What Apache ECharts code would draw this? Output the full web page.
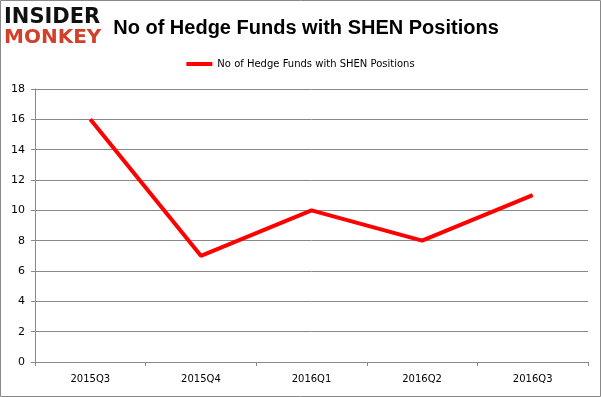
<!DOCTYPE html>
<html>
<head>
<meta charset="utf-8">
<script src="https://cdn.jsdelivr.net/npm/echarts@6/dist/echarts.min.js"></script>
<style>
  html, body { margin: 0; padding: 0; background: #fff; }
  #main { width: 601px; height: 397px; }
</style>
</head>
<body>
<div id="main"></div>
<script>
// data
var quarters = ['2015Q3', '2015Q4', '2016Q1', '2016Q2', '2016Q3'];
var fundCounts = [16, 7, 10, 8, 11];
var seriesName = 'No of Hedge Funds with SHEN Positions';

var myChart = echarts.init(document.getElementById('main'));

myChart.setOption({
  animation: false,
  title: {
    text: 'No of Hedge Funds with SHEN Positions',
    left: 301,
    textAlign: 'center',
    top: 13,
    textStyle: { fontFamily: 'Liberation Sans', fontWeight: 'bold', fontSize: 20, color: '#000' }
  },
  legend: {
    top: 54,
    left: 'center',
    itemWidth: 26,
    itemHeight: 4,
    itemGap: 4,
    icon: 'rect',
    data: [seriesName],
    textStyle: { fontFamily: 'DejaVu Sans', fontSize: 10, color: '#000' }
  },
  grid: { left: 35, right: 13, top: 89, bottom: 35 },
  xAxis: {
    type: 'category',
    data: quarters,
    boundaryGap: true,
    axisLine: { lineStyle: { color: '#888' } },
    axisTick: { show: true, length: 4, lineStyle: { color: '#888' } },
    axisLabel: { fontFamily: 'DejaVu Sans', fontSize: 10, color: '#000', margin: 12 }
  },
  yAxis: {
    type: 'value',
    min: 0,
    max: 18,
    interval: 2,
    axisLine: { show: true, lineStyle: { color: '#888' } },
    axisTick: { show: true, length: 4, lineStyle: { color: '#888' } },
    splitLine: { lineStyle: { color: '#888' } },
    axisLabel: { fontFamily: 'DejaVu Sans', fontSize: 11, color: '#000', margin: 10 }
  },
  graphic: [
    { type: 'rect', shape: { x: 0.5, y: 0.5, width: 600, height: 396 }, style: { fill: null, stroke: '#888', lineWidth: 1 } },
    { type: 'text', left: 4, top: 7, style: { text: 'INSIDER', font: 'bold 21px "DejaVu Sans"', fill: '#111' } },
    { type: 'text', left: 4, top: 28, style: { text: 'MONKEY', font: 'bold 20px "DejaVu Sans"', fill: '#d33f2a' } }
  ],
  series: [{
    name: seriesName,
    type: 'line',
    data: fundCounts,
    symbol: 'none',
    lineStyle: { color: '#ff0000', width: 4 },
    itemStyle: { color: '#ff0000' }
  }]
});
</script>
</body>
</html>
